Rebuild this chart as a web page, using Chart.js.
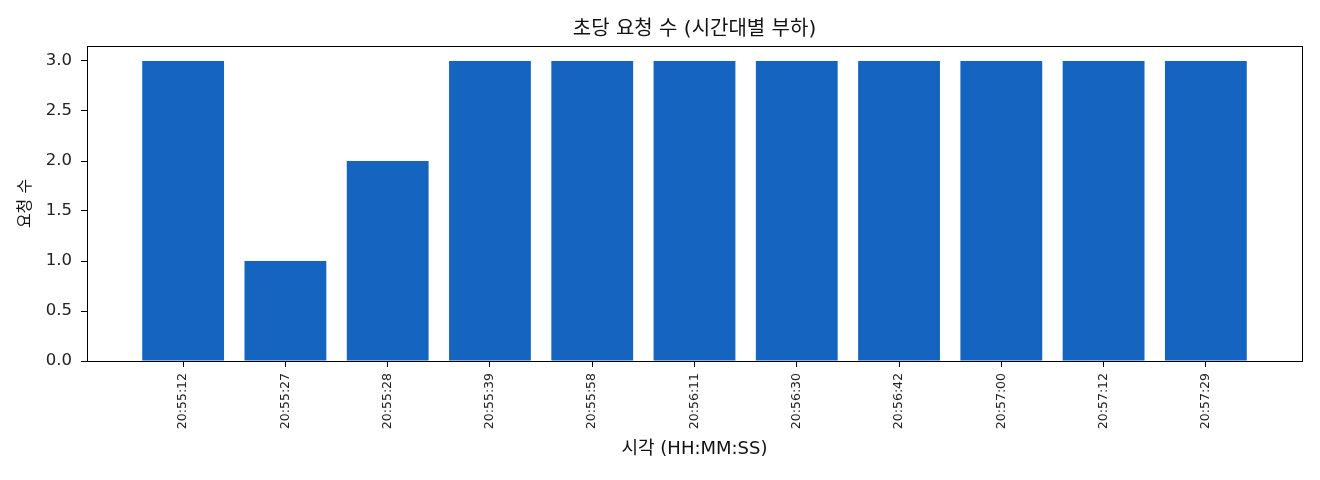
<!DOCTYPE html>
<html>
<head>
<meta charset="utf-8">
<script src="https://cdn.jsdelivr.net/npm/chart.js@4/dist/chart.umd.min.js"></script>
<style>
    html, body { margin: 0; padding: 0; background: #fff; }
    #wrap { width: 1320px; height: 480px; }
</style>
</head>
<body>
<div id="wrap"><canvas id="load-chart" width="1320" height="480"></canvas></div>
<script>
var timeLabels = ['20:55:12', '20:55:27', '20:55:28', '20:55:39', '20:55:58', '20:56:11',
    '20:56:30', '20:56:42', '20:57:00', '20:57:12', '20:57:29'];
var requestCounts = [3, 1, 2, 3, 3, 3, 3, 3, 3, 3, 3];
var yTicks = [0, 0.5, 1.0, 1.5, 2.0, 2.5, 3.0];

var fontFamily = '"DejaVu Sans", "Noto Sans CJK KR", sans-serif';
var blue = '#1565c0';

// draws the full box round the plot area and centres the title over it
var frameBox = {
    id: 'frameBox',
    afterLayout: function (chart) {
        if (chart.titleBlock) {
            chart.titleBlock.left = chart.chartArea.left;
            chart.titleBlock.right = chart.chartArea.right;
        }
    },
    afterDatasetsDraw: function (chart) {
        var area = chart.chartArea;
        var ctx = chart.ctx;
        ctx.save();
        ctx.strokeStyle = '#000';
        ctx.lineWidth = 1;
        ctx.strokeRect(area.left + 0.5, area.top + 0.5, area.right - area.left, area.bottom - area.top);
        ctx.restore();
    }
};

Chart.defaults.font.family = fontFamily;
Chart.defaults.color = '#222';

new Chart(document.getElementById('load-chart'), {
    type: 'bar',
    plugins: [frameBox],
    data: {
        datasets: [
            {
                label: '요청 수',
                data: requestCounts.map(function (v, i) { return {x: i, y: v}; }),
                backgroundColor: blue,
                borderColor: blue,
                borderWidth: 0,
                inflateAmount: 0,
                barPercentage: 0.8,
                categoryPercentage: 1.0
            }
        ]
    },
    options: {
        responsive: false,
        animation: false,
        layout: {padding: {top: 0, right: 18, bottom: 0, left: 0}},
        plugins: {
            legend: {display: false},
            tooltip: {enabled: false},
            title: {
                display: true,
                text: '초당 요청 수 (시간대별 부하)',
                color: '#111',
                font: {size: 20, weight: 'normal'},
                padding: {top: 18, bottom: 4}
            }
        },
        scales: {
            x: {
                type: 'linear',
                min: -0.94,
                max: 10.94,
                offset: false,
                afterBuildTicks: function (scale) {
                    scale.ticks = timeLabels.map(function (t, i) { return {value: i}; });
                },
                afterFit: function (scale) { scale.height = 119; },
                ticks: {
                    autoSkip: false,
                    minRotation: 90,
                    maxRotation: 90,
                    padding: 6,
                    color: '#222',
                    font: {size: 12.5},
                    callback: function (value) { return timeLabels[value]; }
                },
                grid: {offset: false, drawOnChartArea: false, drawTicks: true, tickLength: 6, color: '#000'},
                border: {display: true, color: '#000'},
                title: {
                    display: true,
                    text: '시각 (HH:MM:SS)',
                    color: '#111',
                    font: {size: 18},
                    padding: {top: 0, bottom: 20}
                }
            },
            y: {
                min: 0,
                max: 3.15,
                afterBuildTicks: function (scale) {
                    scale.ticks = yTicks.map(function (v) { return {value: v}; });
                },
                afterFit: function (scale) { scale.width = 87; },
                ticks: {
                    padding: 9,
                    color: '#222',
                    font: {size: 16.5},
                    callback: function (value) { return Number(value).toFixed(1); }
                },
                grid: {drawOnChartArea: false, drawTicks: true, tickLength: 6, color: '#000'},
                border: {display: true, color: '#000'},
                title: {
                    display: true,
                    text: '요청 수',
                    color: '#111',
                    font: {size: 16},
                    padding: {top: 16, bottom: 0}
                }
            }
        }
    }
});
</script>
</body>
</html>
